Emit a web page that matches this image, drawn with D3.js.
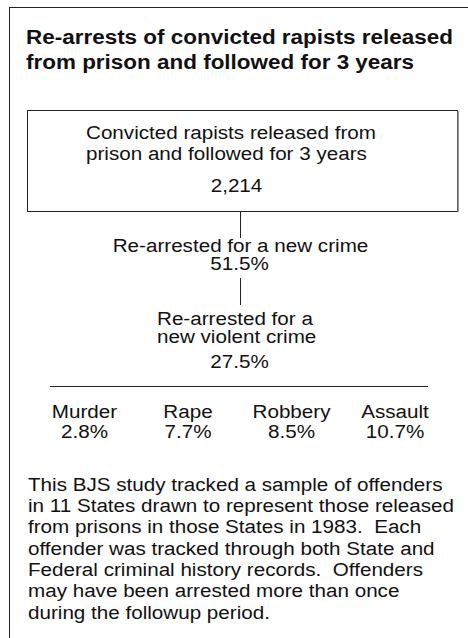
<!DOCTYPE html>
<html>
<head>
<meta charset="utf-8">
<script src="https://cdn.jsdelivr.net/npm/d3@7/dist/d3.min.js"></script>
<style>
  html, body { margin: 0; padding: 0; background: #fff; }
  svg { display: block; }
  text { font-family: Arial, "Liberation Sans", Helvetica, sans-serif; fill: #111; white-space: pre; }
</style>
</head>
<body>
<script>
// ---- data ----
const titleLines = ["Re-arrests of convicted rapists released", "from prison and followed for 3 years"];
const cohortLabel = ["Convicted rapists released from", "prison and followed for 3 years"];
const cohortSize = [2214];
const anyCrimeLabel = ["Re-arrested for a new crime"];
const anyCrimePct = [51.5];
const violentLabel = ["Re-arrested for a", "new violent crime"];
const violentPct = [27.5];
const categories = ["Murder", "Rape", "Robbery", "Assault"];
const categoryPct = [2.8, 7.7, 8.5, 10.7];
const noteLines = [
  "This BJS study tracked a sample of offenders",
  "in 11 States drawn to represent those released",
  "from prisons in those States in 1983.  Each",
  "offender was tracked through both State and",
  "Federal criminal history records.  Offenders",
  "may have been arrested more than once",
  "during the followup period."
];

// ---- drawing ----
const W = 468, H = 638;
const svg = d3.select("body").append("svg").attr("width", W).attr("height", H);
const fmtInt = d3.format(",");
const fmtPct = v => d3.format(".1f")(v) + "%";
const ink = "#222";
const bodyFs = 18.6, bodySx = 1.11;
const titleFs = 21, titleSx = 1.07;

// place a text at (x, y) with slight horizontal stretch, as in the reference
function place(sel, fx, fy, sx) {
  return sel.attr("x", 0).attr("y", 0)
    .attr("transform", (d, i) => `translate(${typeof fx === "function" ? fx(d, i) : fx},${typeof fy === "function" ? fy(d, i) : fy}) scale(${sx},1)`);
}

// outer frame (extends past right and bottom edges)
svg.append("rect").attr("x", 9.5).attr("y", 7.5).attr("width", W + 20).attr("height", H + 20)
  .attr("fill", "none").attr("stroke", ink).attr("stroke-width", 1);

// title
place(svg.append("g").selectAll("text").data(titleLines).join("text"), 26, (d, i) => 44 + i * 24.5, titleSx)
  .attr("font-size", titleFs).attr("font-weight", "bold").attr("fill", "#000")
  .text(d => d);

// cohort box
svg.append("rect").attr("x", 27.5).attr("y", 110.5).attr("width", 430).attr("height", 101)
  .attr("fill", "#fff").attr("stroke", ink).attr("stroke-width", 1);
svg.append("line").attr("x1", 458).attr("x2", 458).attr("y1", 111).attr("y2", 212)
  .attr("stroke", "#777").attr("stroke-width", 1.5);

place(svg.append("g").selectAll("text").data(cohortLabel).join("text"), 86, (d, i) => 138.5 + i * 21.7, bodySx)
  .attr("font-size", bodyFs).text(d => d);
place(svg.append("text").data(cohortSize), 236.5, 191.5, bodySx)
  .attr("text-anchor", "middle").attr("font-size", bodyFs).text(d => fmtInt(d));

// connectors
const connX = 240.5;
svg.append("line").attr("x1", connX).attr("x2", connX).attr("y1", 212).attr("y2", 238)
  .attr("stroke", ink).attr("stroke-width", 1);
svg.append("line").attr("x1", connX).attr("x2", connX).attr("y1", 278).attr("y2", 305)
  .attr("stroke", ink).attr("stroke-width", 1);

// any-crime node
place(svg.append("text").data(anyCrimeLabel), 240.5, 251.5, bodySx)
  .attr("text-anchor", "middle").attr("font-size", bodyFs).text(d => d);
place(svg.append("text").data(anyCrimePct), 239.5, 270, bodySx)
  .attr("text-anchor", "middle").attr("font-size", bodyFs).text(d => fmtPct(d));

// violent node
place(svg.append("g").selectAll("text").data(violentLabel).join("text"), 157, (d, i) => 325 + i * 18.2, bodySx)
  .attr("font-size", bodyFs).text(d => d);
place(svg.append("text").data(violentPct), 239.5, 368.3, bodySx)
  .attr("text-anchor", "middle").attr("font-size", bodyFs).text(d => fmtPct(d));

// divider
svg.append("line").attr("x1", 50).attr("x2", 428).attr("y1", 386.5).attr("y2", 386.5)
  .attr("stroke", ink).attr("stroke-width", 1);

// categories
const x = d3.scalePoint().domain(categories).range([84.5, 395]);
const cat = svg.append("g").selectAll("g").data(categories).join("g")
  .attr("transform", d => `translate(${x(d)},0)`);
place(cat.append("text"), 0, 418, bodySx).attr("text-anchor", "middle").attr("font-size", bodyFs).text(d => d);
place(cat.append("text"), 0, 438, bodySx).attr("text-anchor", "middle").attr("font-size", bodyFs)
  .text((d, i) => fmtPct(categoryPct[i]));

// note
place(svg.append("g").selectAll("text").data(noteLines).join("text"), 28, (d, i) => 490.7 + i * 21.3, bodySx)
  .attr("font-size", bodyFs).text(d => d);
</script>
</body>
</html>
